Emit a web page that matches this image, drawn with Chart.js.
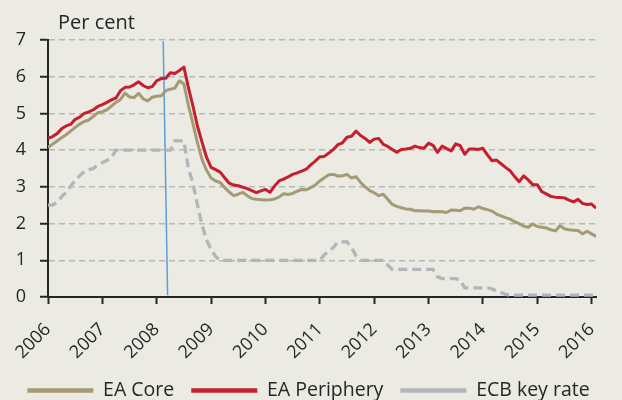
<!DOCTYPE html>
<html>
<head>
<meta charset="utf-8">
<script src="https://cdn.jsdelivr.net/npm/chart.js@4.4.1/dist/chart.umd.min.js"></script>
<style>
  html, body { margin: 0; padding: 0; background: #EBEAE3; }
  #wrap { position: relative; width: 622px; height: 400px; }
</style>
</head>
<body>
<div id="wrap"><canvas id="chart" width="622" height="400"></canvas></div>
<script>
// ---------- DATA ----------
const startYear = 2006;                 // first month = January 2006, monthly observations
const tickYears = [2006, 2007, 2008, 2009, 2010, 2011, 2012, 2013, 2014, 2015, 2016];
const yTicks = [0, 1, 2, 3, 4, 5, 6, 7];
const unitLabel = 'Per cent';
const seriesNames = ['EA Core', 'EA Periphery', 'ECB key rate'];

const eaCore = [
  4.08, 4.16, 4.25, 4.34, 4.42, 4.52, 4.62, 4.71, 4.78, 4.82, 4.92, 5.02,
  5.05, 5.10, 5.20, 5.30, 5.38, 5.55, 5.45, 5.43, 5.55, 5.40, 5.34, 5.44,
  5.47, 5.48, 5.62, 5.66, 5.69, 5.89, 5.80, 5.22, 4.72, 4.20, 3.75, 3.45,
  3.24, 3.16, 3.12, 2.98, 2.86, 2.76, 2.80, 2.85, 2.76, 2.68, 2.66, 2.65,
  2.64, 2.65, 2.67, 2.72, 2.81, 2.79, 2.82, 2.88, 2.93, 2.92, 2.98, 3.05,
  3.16, 3.25, 3.33, 3.34, 3.29, 3.30, 3.34, 3.24, 3.28, 3.12, 3.00, 2.90,
  2.84, 2.76, 2.80, 2.66, 2.52, 2.47, 2.43, 2.40, 2.39, 2.35, 2.35, 2.34,
  2.34, 2.32, 2.33, 2.32, 2.30, 2.37, 2.36, 2.35, 2.42, 2.42, 2.39, 2.46,
  2.41, 2.38, 2.34, 2.26, 2.21, 2.16, 2.12, 2.05, 2.00, 1.93, 1.90, 1.99,
  1.92, 1.90, 1.88, 1.83, 1.80, 1.94, 1.86, 1.83, 1.82, 1.81, 1.72, 1.79,
  1.72, 1.65
];

const eaPeriphery = [
  4.32, 4.37, 4.45, 4.58, 4.66, 4.70, 4.84, 4.90, 5.00, 5.04, 5.10, 5.19,
  5.24, 5.30, 5.37, 5.42, 5.62, 5.71, 5.72, 5.78, 5.86, 5.76, 5.70, 5.73,
  5.89, 5.95, 5.96, 6.11, 6.09, 6.17, 6.26, 5.70, 5.20, 4.65, 4.22, 3.80,
  3.53, 3.47, 3.40, 3.25, 3.10, 3.05, 3.03, 2.99, 2.95, 2.90, 2.84, 2.89,
  2.93, 2.85, 3.02, 3.16, 3.21, 3.27, 3.34, 3.38, 3.43, 3.48, 3.60, 3.70,
  3.82, 3.83, 3.92, 4.02, 4.15, 4.20, 4.35, 4.38, 4.52, 4.40, 4.32, 4.21,
  4.30, 4.32, 4.16, 4.10, 4.02, 3.94, 4.02, 4.03, 4.05, 4.11, 4.07, 4.05,
  4.19, 4.13, 3.94, 4.11, 4.04, 3.98, 4.17, 4.12, 3.89, 4.03, 4.03, 4.02,
  4.05, 3.87, 3.71, 3.73, 3.63, 3.53, 3.44, 3.28, 3.14, 3.30, 3.19, 3.06,
  3.06, 2.87, 2.81, 2.74, 2.72, 2.71, 2.70, 2.64, 2.59, 2.66, 2.55, 2.52,
  2.53, 2.42
];

const ecbKeyRate = [
  2.50, 2.50, 2.58, 2.73, 2.85, 3.02, 3.18, 3.30, 3.42, 3.47, 3.50, 3.60,
  3.66, 3.72, 3.80, 4.00, 4.00, 4.00, 4.00, 4.00, 4.00, 4.00, 4.00, 4.00,
  4.00, 4.00, 4.00, 4.00, 4.25, 4.25, 4.25, 3.50, 3.10, 2.50, 1.96, 1.55,
  1.30, 1.10, 1.00, 1.00, 1.00, 1.00, 1.00, 1.00, 1.00, 1.00, 1.00, 1.00,
  1.00, 1.00, 1.00, 1.00, 1.00, 1.00, 1.00, 1.00, 1.00, 1.00, 1.00, 1.00,
  1.00, 1.15, 1.25, 1.35, 1.50, 1.50, 1.50, 1.35, 1.12, 1.00, 1.00, 1.00,
  1.00, 1.00, 1.00, 0.87, 0.75, 0.75, 0.75, 0.75, 0.75, 0.75, 0.75, 0.75,
  0.75, 0.75, 0.55, 0.50, 0.50, 0.50, 0.50, 0.45, 0.25, 0.25, 0.25, 0.25,
  0.25, 0.25, 0.22, 0.16, 0.12, 0.07, 0.05, 0.05, 0.05, 0.05, 0.05, 0.05,
  0.05, 0.05, 0.05, 0.05, 0.05, 0.05, 0.05, 0.05, 0.05, 0.05, 0.05, 0.05,
  0.05, 0.05
];

// vertical marker (slightly slanted in the original), in data units
const markerLine = [{ x: 2008.12, y: 6.96 }, { x: 2008.20, y: 0.05 }];

// ---------- STYLE ----------
const BG = '#EBEAE3';
const TEXT = '#262626';
const AXIS = '#262626';
const GRID = '#B7B7B9';
const TAN = '#A39A76';
const RED = '#C61E2D';
const GRAY = '#B4B4BA';
const BLUE = '#5A9FD6';
const FONT = '"Open Sans", "DejaVu Sans", sans-serif';

// x positions of the monthly observations (decimal years)
const monthPositions = eaCore.map((_, i) => startYear + i / 12);

const bgPlugin = {
  id: 'bg',
  beforeDraw(chart) {
    const { ctx, width, height } = chart;
    ctx.save();
    ctx.fillStyle = BG;
    ctx.fillRect(0, 0, width, height);
    ctx.restore();
  }
};

const unitPlugin = {
  id: 'unitLabel',
  afterDraw(chart) {
    const { ctx, chartArea } = chart;
    ctx.save();
    ctx.font = '20px ' + FONT;
    ctx.fillStyle = TEXT;
    ctx.textAlign = 'left';
    ctx.textBaseline = 'alphabetic';
    ctx.fillText(unitLabel, chartArea.left + 10, chartArea.top - 11);
    ctx.restore();
  }
};

Chart.defaults.font.family = FONT;

const legendPad = 17;
const leftPad = 10;

new Chart(document.getElementById('chart'), {
  type: 'line',
  data: {
    labels: monthPositions,
    datasets: [
      { label: seriesNames[0], data: eaCore, borderColor: TAN, backgroundColor: TAN,
        borderWidth: 3, pointRadius: 0, tension: 0, borderJoinStyle: 'round' },
      { label: seriesNames[1], data: eaPeriphery, borderColor: RED, backgroundColor: RED,
        borderWidth: 3, pointRadius: 0, tension: 0, borderJoinStyle: 'round' },
      { label: seriesNames[2], data: ecbKeyRate, borderColor: GRAY, backgroundColor: GRAY,
        borderWidth: 3.3, borderDash: [9, 5], pointRadius: 0, tension: 0 },
      { label: 'marker', data: markerLine, borderColor: BLUE, backgroundColor: BLUE,
        borderWidth: 1.5, pointRadius: 0, tension: 0 }
    ]
  },
  options: {
    responsive: false,
    animation: false,
    layout: { padding: { top: 40, right: 15, bottom: 0, left: leftPad } },
    scales: {
      x: {
        type: 'linear',
        min: startYear,
        max: startYear + (eaCore.length - 1) / 12,
        afterBuildTicks: (s) => { s.ticks = tickYears.map(v => ({ value: v })); },
        afterFit: (s) => { s.height = 380.75 - legendPad - 297; },
        grid: { drawOnChartArea: false, drawTicks: true, tickLength: 7, tickColor: AXIS, tickWidth: 2 },
        border: { color: AXIS, width: 2 },
        ticks: {
          autoSkip: false, minRotation: 45, maxRotation: 45, padding: 15,
          color: TEXT, font: { size: 18 },
          callback: (v) => String(v)
        }
      },
      y: {
        min: 0, max: 7,
        afterBuildTicks: (s) => { s.ticks = yTicks.map(v => ({ value: v })); },
        afterFit: (s) => { s.width = 48 - leftPad; },
        grid: { color: GRID, lineWidth: 1.5, drawTicks: true, tickColor: AXIS, tickLength: 8, tickWidth: 2 },
        border: { color: AXIS, width: 2, dash: [6, 4] },
        ticks: { padding: 14, color: TEXT, font: { size: 18 }, callback: (v) => String(v) }
      }
    },
    plugins: {
      legend: {
        position: 'bottom',
        maxHeight: legendPad + 19.25,
        labels: {
          usePointStyle: true,
          pointStyle: 'line',
          pointStyleWidth: 66,
          boxWidth: 66,
          padding: legendPad,
          color: TEXT,
          font: { size: 19.5 },
          filter: (item) => item.datasetIndex < 3,
          generateLabels: (chart) =>
            Chart.defaults.plugins.legend.labels.generateLabels(chart)
              .map(l => Object.assign(l, { lineWidth: 4.5 }))
        }
      },
      tooltip: { enabled: false }
    }
  },
  plugins: [bgPlugin, unitPlugin]
});
</script>
</body>
</html>
